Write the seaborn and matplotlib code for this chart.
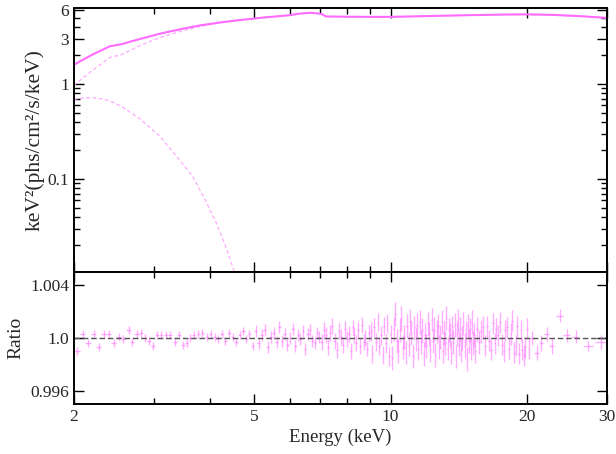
import numpy as np
import seaborn as sns
import matplotlib
matplotlib.use("Agg")
import matplotlib.pyplot as plt
from matplotlib.ticker import FixedLocator, FixedFormatter, NullFormatter

# ---- model curves (keV, keV^2 photons/cm^2/s/keV) ----
total_e = [2.0, 2.2, 2.4, 2.55, 2.7, 3.1, 3.5, 3.8, 4.2, 4.6, 5.2, 6.0, 6.25, 6.65,
           6.9, 7.05, 7.2, 8.0, 9.0, 10.0, 12.0, 15.0, 18.0, 20.0, 23.0, 26.0, 30.0]
total_f = [1.6, 2.05, 2.5, 2.63, 2.85, 3.4, 3.85, 4.15, 4.45, 4.7, 5.0, 5.32, 5.5, 5.63,
           5.55, 5.45, 5.15, 5.12, 5.1, 5.1, 5.2, 5.32, 5.4, 5.42, 5.35, 5.2, 4.98]

comp_e = [2.0, 2.2, 2.4, 2.55, 2.8, 3.1, 3.5, 3.8, 4.2, 4.6, 5.2, 6.0, 6.25, 6.65,
          6.9, 7.05, 7.2, 8.0, 10.0, 15.0, 20.0, 26.0, 30.0]
comp_f = [0.97, 1.4, 1.9, 2.05, 2.55, 3.1, 3.68, 4.05, 4.41, 4.69, 5.0, 5.32, 5.5, 5.63,
          5.55, 5.45, 5.15, 5.12, 5.1, 5.32, 5.42, 5.2, 4.98]

disk_e = [2.0, 2.1, 2.2, 2.3, 2.4, 2.55, 2.8, 3.1, 3.4, 3.66, 3.9, 4.13, 4.3, 4.48, 4.6]
disk_f = [0.69, 0.715, 0.72, 0.70, 0.665, 0.58, 0.43, 0.28, 0.165, 0.106, 0.06, 0.034,
          0.021, 0.0119, 0.0085]

# ---- data / model ratio (deviations in units of 1e-4) ----
energy_lo = [2.03, 2.09, 2.15, 2.21, 2.27, 2.33, 2.39, 2.45, 2.51, 2.57, 2.64, 2.69,
             2.75, 2.81, 2.87, 2.93, 2.99, 3.05, 3.12, 3.19, 3.26, 3.34, 3.41, 3.48,
             3.55, 3.61, 3.68, 3.76, 3.84, 3.93, 4.01, 4.09, 4.16]
dev_lo = [-10, 3, -4, 3, -7, 3, 3, -4, 1, -1, 6, -3, 3, 4, 0, -2, -6, 2, 2, 2, 2, -3,
          2, -5, -4, 0, 2, 3, 4, 1, 3, 1, -1]

energy_mid = [
    4.24, 4.32, 4.40, 4.48, 4.56, 4.64, 4.72, 4.80, 4.88, 4.96,
    5.04, 5.12, 5.20, 5.28, 5.36, 5.44, 5.52, 5.60, 5.68, 5.76,
    5.84, 5.92, 6.00, 6.08, 6.16, 6.24, 6.32, 6.40, 6.48, 6.56,
    6.64, 6.72, 6.80, 6.88, 6.96, 7.04, 7.12, 7.20, 7.28, 7.36,
    7.44, 7.52, 7.60, 7.68, 7.76, 7.84, 7.92, 8.00, 8.08, 8.16,
    8.24, 8.32, 8.40, 8.48, 8.56, 8.64, 8.72, 8.80, 8.88, 8.96,
    9.04, 9.12, 9.20, 9.28, 9.36, 9.44, 9.52, 9.60, 9.68, 9.76,
    9.84, 9.92, 10.00, 10.08, 10.16, 10.24, 10.32, 10.40, 10.48, 10.56,
    10.64, 10.72, 10.80, 10.88, 10.96, 11.04, 11.12, 11.20, 11.28, 11.36,
    11.44, 11.52, 11.60, 11.68, 11.76, 11.84, 11.92, 12.00, 12.08, 12.16,
    12.24, 12.32, 12.40, 12.48, 12.56, 12.64, 12.72, 12.80, 12.88, 12.96,
    13.04, 13.12, 13.20, 13.28, 13.36, 13.44, 13.52, 13.60, 13.68, 13.76,
    13.84, 13.92, 14.00, 14.08, 14.16, 14.24, 14.32, 14.40, 14.48, 14.56,
    14.64, 14.72, 14.80, 14.88, 14.96, 15.04, 15.12, 15.20, 15.28, 15.36]
dev_mid = [
    3, -2, 4, 1, -3, 2, 5, -1, 3, -6,
    5, -4, 2, 6, -7, 1, 4, -3, 8, -2,
    3, -5, 0, 7, -6, 2, -1, 5, -8, 3,
    6, -2, -4, 4, 1, -3, 6, 2, -7, 4,
    9, -2, -9, 5, 1, -5, 7, -1, 3, -10,
    8, 2, -4, 6, -6, 10, -3, 0, -8, 4,
    5, -12, 8, -3, 12, -6, 2, -13, 9, -4,
    11, -14, 3, -15, 7, 18, -2, -10, 6, 15,
    -7, 1, -11, 9, -5, 13, 4, -14, 8, -1,
    10, -8, 12, -3, 6, -12, 2, -6, 11, 3,
    -9, 14, -2, 7, -13, 5, 9, -7, 1, 12,
    -10, 4, -4, 15, -8, 6, 2, -11, 8, -3,
    10, -14, 3, 13, -5, 7, -9, 0, 11, -6,
    4, -16, 9, -2, 6, -8, 12, -4, 2, -10]

energy_up = [15.52, 15.68, 15.84, 16.00, 16.16, 16.32, 16.48, 16.64, 16.80, 16.96,
             17.12, 17.28, 17.44, 17.60, 17.76, 17.92, 18.08, 18.24, 18.40, 18.56,
             18.72, 18.88, 19.04, 19.20, 19.36, 19.52, 19.68, 19.84, 20.00, 20.16]
dev_up = [7, -3, 5, 8, -6, 9, -2, -9, 11, -4, 7, 2, 12, -5, -10, 6, 8, -8, 3, 13,
          -11, -6, 9, -12, 6, -9, -13, -7, 7, -8]

energy_hi = [20.5, 21.0, 21.5, 22.1, 22.7, 23.6, 24.5, 25.6, 27.3, 29.2]
dev_hi = [0, -11, -4, 3, -6, 17, 2, 1, -6, -3]
xerr_hi = [0.25, 0.25, 0.25, 0.3, 0.3, 0.4, 0.45, 0.5, 0.7, 0.9]
yerr_hi = [5, 6, 6, 5, 6, 5, 5, 5, 4, 5]

# error size (1e-4) per energy band: upper band edges and values
err_band_edge = [5.0, 7.0, 9.0, 10.0, 16.0, 20.5]
err_band_val = [3, 4.5, 6, 7, 9, 8]

e_bin = np.array(energy_lo + energy_mid + energy_up)
E = np.concatenate([e_bin, energy_hi])
R = 1.0 + np.array(dev_lo + dev_mid + dev_up + dev_hi) * 1e-4
band = np.searchsorted(err_band_edge, e_bin)
yerr = np.concatenate([np.array(err_band_val)[band], yerr_hi]) * 1e-4
xerr = np.concatenate([np.full(len(energy_lo), 0.03), np.full(len(energy_mid), 0.04),
                       np.full(len(energy_up), 0.08), xerr_hi])

sns.set_style("ticks")
plt.rcParams['font.family'] = ['Liberation Serif', 'DejaVu Serif']

pink = '#ff6cff'
light = '#ffaaff'

fig = plt.figure(figsize=(6.16, 4.54), dpi=100)
ax1 = fig.add_axes([0.120, 0.401, 0.865, 0.581])
ax2 = fig.add_axes([0.120, 0.110, 0.865, 0.291], sharex=ax1)

sns.lineplot(x=comp_e, y=comp_f, ax=ax1, color=light, linewidth=0.9)
ax1.get_lines()[-1].set_dashes([3, 2])
sns.lineplot(x=disk_e, y=disk_f, ax=ax1, color=light, linewidth=0.9)
ax1.get_lines()[-1].set_dashes([3, 2])
sns.lineplot(x=total_e, y=total_f, ax=ax1, color=pink, linewidth=1.5)

ax2.errorbar(E, R, xerr=xerr, yerr=yerr, fmt='none', ecolor=pink, elinewidth=1.0,
             alpha=0.55, capsize=0)
ax2.axhline(1.0, color='#555555', linestyle='--', linewidth=1.0, dashes=(4, 2))

for ax in (ax1, ax2):
    ax.set_xscale('log')
    ax.set_xlim(2, 30)
    ax.tick_params(which='both', direction='in', top=True, right=True, labelsize=12.5,
                   color='black')
    ax.tick_params(which='major', length=7, width=1.0)
    ax.tick_params(which='minor', length=4, width=1.0)
    for s in ax.spines.values():
        s.set_linewidth(1.4)
        s.set_color('black')
    ax.xaxis.set_major_locator(FixedLocator([2, 5, 10, 20, 30]))
    ax.xaxis.set_minor_locator(FixedLocator([3, 4, 6, 7, 8, 9]))
    ax.xaxis.set_minor_formatter(NullFormatter())

ax1.set_yscale('log')
ax1.set_ylim(0.0105, 6.3)
ax1.yaxis.set_major_locator(FixedLocator([0.1, 1, 3, 6]))
ax1.yaxis.set_major_formatter(FixedFormatter(['0.1', '1', '3', '6']))
ax1.yaxis.set_minor_locator(FixedLocator([0.02, 0.03, 0.04, 0.05, 0.06, 0.07, 0.08, 0.09,
                                          0.2, 0.3, 0.4, 0.5, 0.6, 0.7, 0.8, 0.9, 2, 4, 5]))
ax1.yaxis.set_minor_formatter(NullFormatter())
ax1.tick_params(axis='x', labelbottom=False)
ax1.set_ylabel('keV²(phs/cm²/s/keV)', fontsize=15.5, labelpad=2)

ax2.set_ylim(0.995, 1.005)
ax2.yaxis.set_major_locator(FixedLocator([0.996, 1.0, 1.004]))
ax2.yaxis.set_major_formatter(FixedFormatter(['0.996', '1.0', '1.004']))
ax2.xaxis.set_major_formatter(FixedFormatter(['2', '5', '10', '20', '30']))
ax2.set_ylabel('Ratio', fontsize=14, labelpad=4)
ax2.set_xlabel('Energy (keV)', fontsize=13.5, labelpad=3)

fig.savefig('out.png', dpi=100)
